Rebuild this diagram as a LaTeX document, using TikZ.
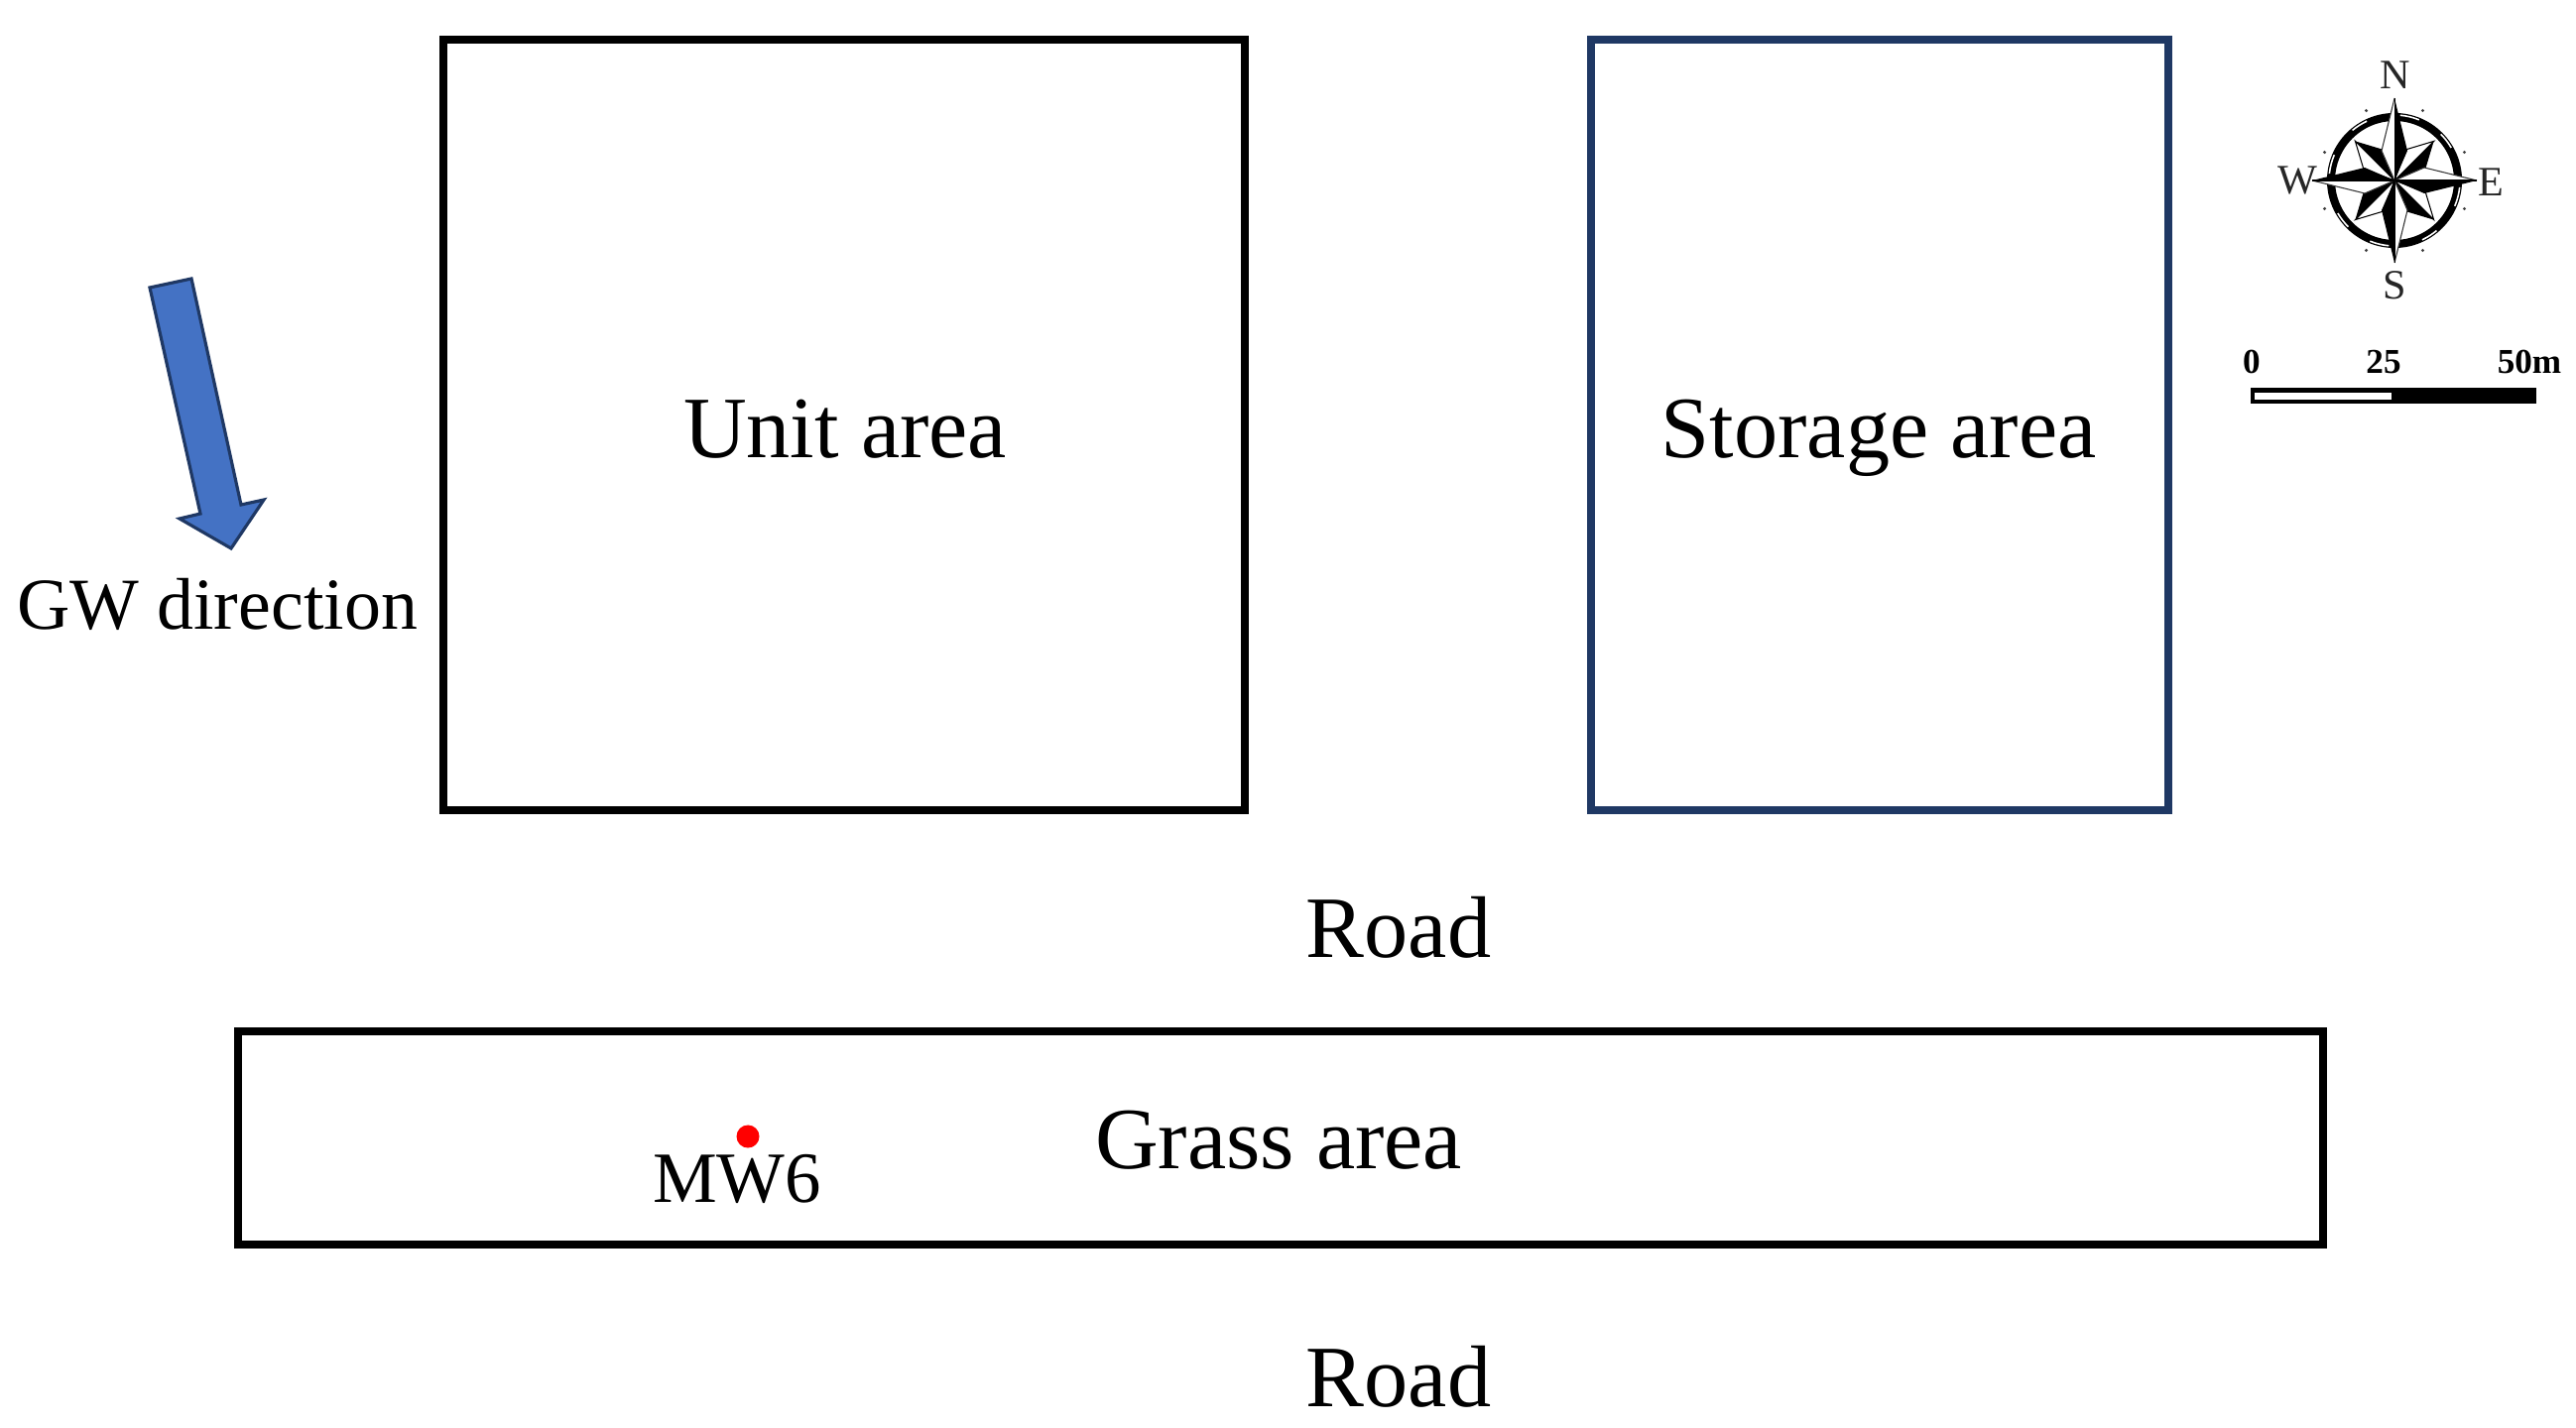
\documentclass[tikz,border=0pt]{standalone}
\usepackage{fontspec}
\setmainfont{Liberation Serif}
\definecolor{navybox}{HTML}{1F3864}
\definecolor{arrowfill}{HTML}{4472C4}
\definecolor{arrowedge}{HTML}{1F3864}
\newcommand{\tsize}[1]{\fontsize{#1}{#1}\selectfont}
\tikzset{
  areabox/.style={draw=black,line width=2.3pt,rectangle,inner sep=0pt,outer sep=0pt},
  biglabel/.style={inner sep=0pt,anchor=base,font=\tsize{25.1}},
  midlabel/.style={inner sep=0pt,anchor=base,font=\tsize{21}},
  compasslabel/.style={inner sep=0pt,anchor=center,text=black!85,font=\tsize{12}},
  scalelabel/.style={inner sep=0pt,anchor=base,font=\bfseries\tsize{10}},
}
\begin{document}
\begin{tikzpicture}[x=0.01cm,y=-0.01cm]
\useasboundingbox[fill=white] (0,0) rectangle (2597,1440);
% area boxes
\node[areabox,minimum width=8.07cm,minimum height=7.77cm] (unitbox) at (851,428.5) {};
\node[areabox,draw=navybox,minimum width=5.82cm,minimum height=7.77cm] (storagebox) at (1895,428.5) {};
\node[areabox,minimum width=21.0cm,minimum height=2.15cm] (grassbox) at (1291,1147.5) {};
% labels
\node[biglabel] (unitlabel) at (852,461.5) {Unit area};
\node[biglabel] (storagelabel) at (1894,461.5) {Storage area};
\node[biglabel] (roadone) at (1410,965) {Road};
\node[biglabel] (grasslabel) at (1289,1178) {Grass area};
\node[biglabel] (roadtwo) at (1410,1418) {Road};
\node[midlabel] (gwlabel) at (219,635) {GW direction};
\node[midlabel,font=\tsize{20.7}] (mwlabel) at (743,1212) {MW6};
% well
\node[circle,fill=red,inner sep=0pt,minimum size=0.23cm] (mwdot) at (754,1146) {};
% groundwater arrow
\draw[fill=arrowfill,draw=arrowedge,line width=0.9pt,line join=miter]
  (151,290) -- (193,281) -- (243,509) -- (266,504) -- (233,553) -- (181,523) -- (202,518) -- cycle;
% compass
\begin{scope}[shift={(2414,182)},x=0.01cm,y=0.01cm]
  \draw[black,line width=2.3pt] (0,0) circle[radius=64];
  \foreach \a in {5,96,185,276}{
    \draw[white,line width=0.45pt] (90-\a:66) arc[start angle=90-\a,end angle=90-\a-17,radius=66];
  }
  \foreach \a in {45,140,225,320}{
    \draw[white,line width=0.45pt] (90-\a:66) arc[start angle=90-\a,end angle=90-\a-15,radius=66];
  }
  \foreach \a in {22,68,112,158,202,248,292,338}{
    \fill[black!75] (90-\a:76) circle[radius=1.7];
  }
  \foreach \r in {45,135,225,315}{
    \begin{scope}[rotate=-\r]
      \fill[white] (0,0) -- (0,56) -- (-14,30) -- cycle;
      \draw[black,line width=0.3pt] (0,0) -- (0,56) -- (-14,30) -- cycle;
      \fill[black] (0,0) -- (0,56) -- (14,30) -- cycle;
    \end{scope}
  }
  \foreach \r in {0,90,180,270}{
    \begin{scope}[rotate=-\r]
      \fill[white] (0,0) -- (0,83) -- (-13,30) -- cycle;
      \draw[black!80,line width=0.3pt] (0,83) -- (-13,30) -- (0,0);
      \fill[black] (0,0) -- (0,83) -- (13,30) -- cycle;
      \draw[black,line width=0.3pt] (0,0) -- (0,83);
    \end{scope}
  }
\end{scope}
\node[compasslabel] (north) at (2415,76) {N};
\node[compasslabel] (west) at (2316,182) {W};
\node[compasslabel] (east) at (2511,184) {E};
\node[compasslabel] (south) at (2414,288) {S};
% scale bar
\fill[black] (2269,391) rectangle (2557,407);
\fill[white] (2273,396) rectangle (2411,403);
\node[scalelabel] (scalezero) at (2270,377) {0};
\node[scalelabel] (scalemid) at (2403,377) {25};
\node[scalelabel] (scaleend) at (2550,377) {50m};
\end{tikzpicture}
\end{document}
